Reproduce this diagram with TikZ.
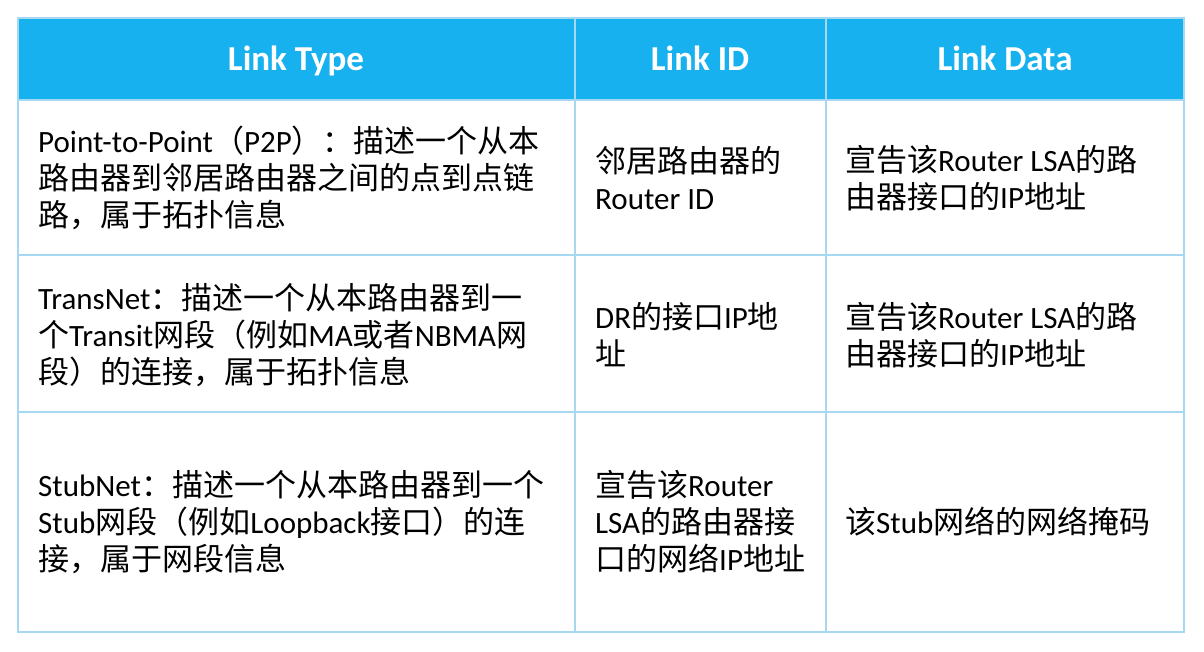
\documentclass[tikz,border=0pt]{standalone}
\usepackage{fontspec}
\setmainfont{Carlito}
\newfontfamily\cj{Noto Sans CJK SC}
\definecolor{hdr}{HTML}{16B1EE}
\definecolor{grid}{HTML}{A6D8F2}
\begin{document}
\begin{tikzpicture}[x=1pt,y=-1pt,
  cell/.style={anchor=west,align=left,inner sep=0pt,font=\fontsize{31}{37}\selectfont},
  head/.style={anchor=base,text=white,inner sep=0pt,font=\fontsize{35}{40}\selectfont\bfseries}]
\useasboundingbox (0,0) rectangle (1204,652);
\fill[white] (0,0) rectangle (1204,652);
\fill[hdr] (18,18) rectangle (1184,100);
\draw[grid,line width=2pt] (18,18) rectangle (1184,632);
\foreach \y in {100,255,412} \draw[grid,line width=2pt] (18,\y) -- (1184,\y);
\foreach \x in {575,826} \draw[grid,line width=2pt] (\x,18) -- (\x,632);
\node[head] (h1) at (296,71) {Link Type};
\node[head] (h2) at (700,71) {Link ID};
\node[head] (h3) at (1005,71) {Link Data};
\node[cell] (a1) at (38,178) {Point-to-Point{\cj （}P2P{\cj ）：描述一个从本}\\{\cj 路由器到邻居路由器之间的点到点链}\\{\cj 路，属于拓扑信息}};
\node[cell] (b1) at (595,178) {{\cj 邻居路由器的}\\Router ID};
\node[cell] (c1) at (845,178) {{\cj 宣告该}Router LSA{\cj 的路}\\{\cj 由器接口的}IP{\cj 地址}};
\node[cell] (a2) at (38,335) {TransNet{\cj ：描述一个从本路由器到一}\\{\cj 个}Transit{\cj 网段（例如}MA{\cj 或者}NBMA{\cj 网}\\{\cj 段）的连接，属于拓扑信息}};
\node[cell] (b2) at (595,335) {DR{\cj 的接口}IP{\cj 地}\\{\cj 址}};
\node[cell] (c2) at (845,335) {{\cj 宣告该}Router LSA{\cj 的路}\\{\cj 由器接口的}IP{\cj 地址}};
\node[cell] (a3) at (38,522) {StubNet{\cj ：描述一个从本路由器到一个}\\Stub{\cj 网段（例如}Loopback{\cj 接口）的连}\\{\cj 接，属于网段信息}};
\node[cell] (b3) at (595,522) {{\cj 宣告该}Router\\LSA{\cj 的路由器接}\\{\cj 口的网络}IP{\cj 地址}};
\node[cell] (c3) at (845,522) {{\cj 该}Stub{\cj 网络的网络掩码}};
\end{tikzpicture}
\end{document}
